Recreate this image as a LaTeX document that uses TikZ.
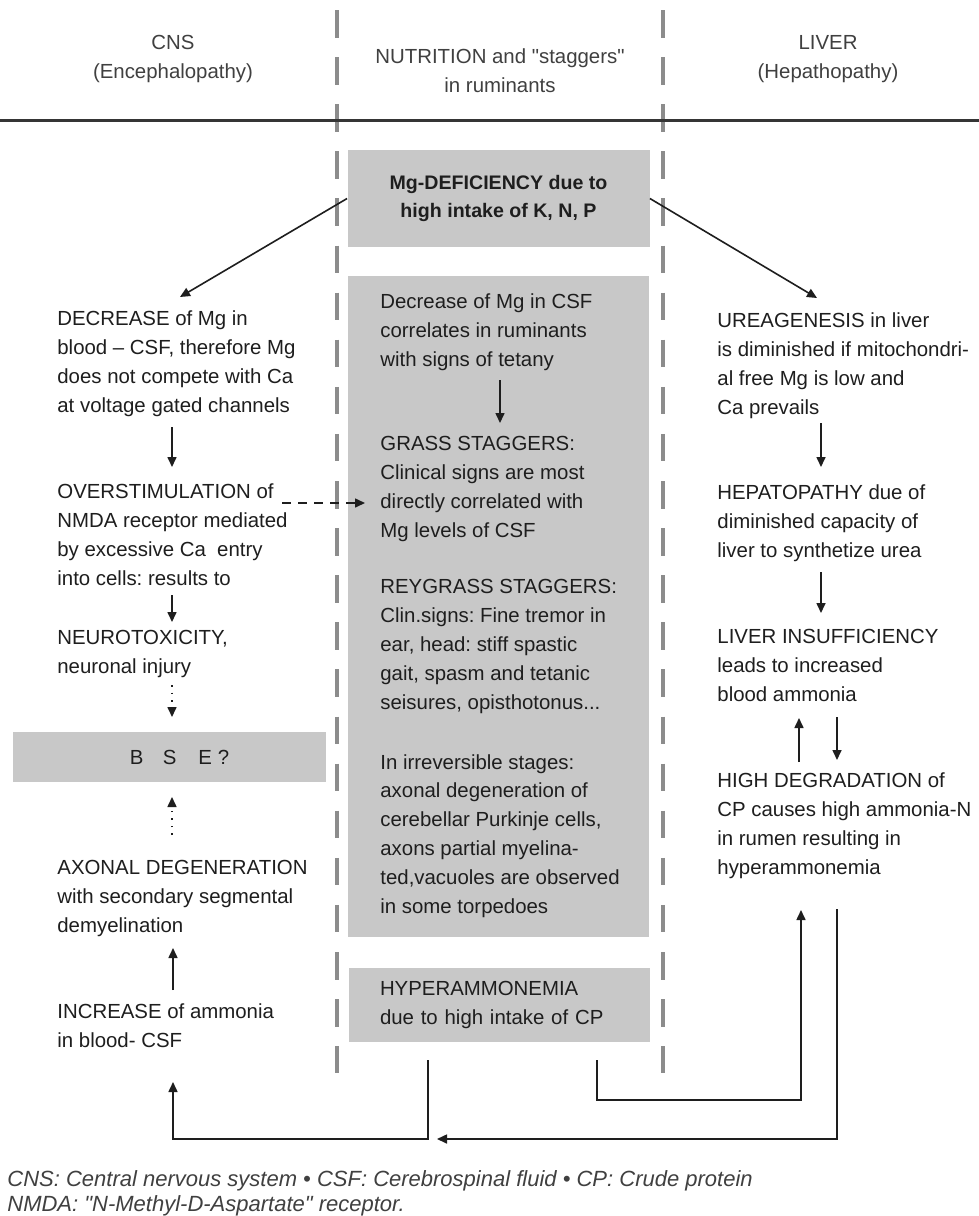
\documentclass[tikz,border=0pt]{standalone}
\usepackage{fontspec}
\setmainfont{Liberation Sans}
\usetikzlibrary{positioning,arrows.meta}
\definecolor{boxgray}{RGB}{200,200,200}
\definecolor{dashgray}{RGB}{140,140,140}
\definecolor{ink}{RGB}{30,30,30}
\tikzstyle{txt} = [anchor=base west, align=left, inner sep=0pt, text=ink, font=\frenchspacing\fontsize{10.2}{14.4}\selectfont]
\tikzstyle{head} = [anchor=base, align=center, inner sep=0pt, text=ink!85, font=\fontsize{10.2}{14.4}\selectfont]
\tikzstyle{graybox} = [fill=boxgray, inner sep=0pt, text=ink]
\tikzstyle{colline} = [dashgray, line width=1.7pt, dash pattern=on 13.75pt off 9.8pt]
\tikzstyle{arr} = [-{Triangle[length=5pt,width=4.5pt]}, line width=0.8pt, ink]
\tikzstyle{dotarr} = [arr, dash pattern=on 0.8pt off 3pt]
\tikzstyle{dasharr} = [arr, dash pattern=on 4.5pt off 3.5pt]

\begin{document}
\begin{tikzpicture}[x=0.5pt, y=-0.5pt]
\fill[white] (0,0) rectangle (979,1216);
\useasboundingbox (0,0) rectangle (979,1216);

\draw[colline] (337,10) coordinate(d_1) -- (337,1073) coordinate(d_2);
\draw[colline] (663,10) coordinate(d_3) -- (663,1073) coordinate(d_4);
\draw[ink!90, line width=1.5pt] (0,120) coordinate(h_l) -- (979,120) coordinate(h_r);

\node[head] (hd_1) at (173,78) {CNS\\(Encephalopathy)};
\node[head] (hd_2) at (500,92) {NUTRITION and \textquotedbl staggers\textquotedbl\\in ruminants};
\node[head] (hd_3) at (828,78) {LIVER\\(Hepathopathy)};

\node[graybox, minimum width=151pt, minimum height=48.5pt, align=center,
      font=\bfseries\fontsize{9.8}{14.4}\selectfont] (mid_0) at (498.5,198.5)
      {Mg-DEFICIENCY due to\\high intake of K, N, P};
\node[graybox, minimum width=150.5pt, minimum height=330.5pt] (mid_big) at (498.5,606.5) {};
\node[graybox, minimum width=150.5pt, minimum height=37pt, text width=119.5pt, inner xsep=15.5pt,
      align=left, font=\frenchspacing\fontsize{10.2}{14.4}\selectfont] (mid_5) at (499.5,1005)
      {HYPERAMMONEMIA\\due to high intake of CP};
\node[graybox, minimum width=156.5pt, minimum height=25pt, font=\fontsize{10.2}{14.4}\selectfont]
      (cns_4) at (169.5,757) {\hspace*{10pt}B\hspace{9.7pt}S\hspace{11pt}E ?};

\node[txt] (cns_1) at (57,412) {DECREASE of Mg in\\blood -- CSF, therefore Mg\\does not compete with Ca\\at voltage gated channels};
\node[txt] (cns_2) at (57,585) {OVERSTIMULATION of\\NMDA receptor mediated\\by excessive Ca\ \ entry\\into cells: results to};
\node[txt] (cns_3) at (57,673) {NEUROTOXICITY,\\neuronal injury};
\node[txt] (cns_5) at (57,932) {AXONAL DEGENERATION\\with secondary segmental\\demyelination};
\node[txt] (cns_6) at (57,1047) {INCREASE of ammonia\\in blood- CSF};

\node[txt] (mid_1) at (380,366) {Decrease of Mg in CSF\\correlates in ruminants\\with signs of tetany};
\node[txt] (mid_2) at (380,537) {GRASS STAGGERS:\\Clinical signs are most\\directly correlated with\\Mg levels of CSF};
\node[txt] (mid_3) at (380,709) {REYGRASS STAGGERS:\\Clin.signs: Fine tremor in\\ear, head: stiff spastic\\gait, spasm and tetanic\\seisures, opisthotonus...};
\node[txt] (mid_4) at (380,913) {In irreversible stages:\\axonal degeneration of\\cerebellar Purkinje cells,\\axons partial myelina-\\ted,vacuoles are observed\\in some torpedoes};

\node[txt] (liv_1) at (717,414) {UREAGENESIS in liver\\is diminished if mitochondri-\\al free Mg is low and\\Ca prevails};
\node[txt] (liv_2) at (717,557) {HEPATOPATHY due of\\diminished capacity of\\liver to synthetize urea};
\node[txt] (liv_3) at (717,701) {LIVER INSUFFICIENCY\\leads to increased\\blood ammonia};
\node[txt] (liv_4) at (717,874) {HIGH DEGRADATION of\\CP causes high ammonia-N\\in rumen resulting in\\hyperammonemia};

\node[anchor=base west, align=left, inner sep=0pt, text=ink!85,
      font=\frenchspacing\itshape\fontsize{11}{12.5}\selectfont] (ft_1) at (7,1211)
      {CNS: Central nervous system \textbullet{} CSF: Cerebrospinal fluid \textbullet{} CP: Crude protein\\NMDA: \textquotedbl N-Methyl-D-Aspartate\textquotedbl{} receptor.};

\coordinate (a_1) at (180,297);
\coordinate (a_2) at (817,298);
\draw[arr] (mid_0.west) -- (a_1);
\draw[arr] (mid_0.east) -- (a_2);

\coordinate (c_1) at (172,427);  \coordinate (c_2) at (172,467);
\coordinate (c_3) at (172,595);  \coordinate (c_4) at (172,622);
\coordinate (c_5) at (172,685);  \coordinate (c_6) at (172,717);
\coordinate (c_7) at (172,835);  \coordinate (c_8) at (172,797);
\coordinate (c_9) at (173,990);  \coordinate (c_10) at (173,948);
\draw[arr] (c_1) -- (c_2);
\draw[arr] (c_3) -- (c_4);
\draw[dotarr] (c_5) -- (c_6);
\draw[dotarr] (c_7) -- (c_8);
\draw[arr] (c_9) -- (c_10);

\coordinate (m_1) at (500,380);  \coordinate (m_2) at (500,423);
\draw[arr] (m_1) -- (m_2);
\coordinate (m_3) at (282,503);  \coordinate (m_4) at (365,503);
\draw[dasharr] (m_3) -- (m_4);

\coordinate (l_1) at (821,423);  \coordinate (l_2) at (821,467);
\coordinate (l_3) at (821,572);  \coordinate (l_4) at (821,613);
\coordinate (l_5) at (799,762);  \coordinate (l_6) at (799,718);
\coordinate (l_7) at (837,717);  \coordinate (l_8) at (837,760);
\draw[arr] (l_1) -- (l_2);
\draw[arr] (l_3) -- (l_4);
\draw[arr] (l_5) -- (l_6);
\draw[arr] (l_7) -- (l_8);

\coordinate (b_1) at (428,1060);  \coordinate (b_2) at (428,1139);
\coordinate (b_3) at (173,1082);
\draw[arr] (b_1) -- (b_2) -| (b_3);
\coordinate (b_4) at (597,1060);  \coordinate (b_5) at (597,1100);
\coordinate (b_6) at (801,910);
\draw[arr] (b_4) -- (b_5) -| (b_6);
\coordinate (b_7) at (837,909);  \coordinate (b_8) at (437,1139);
\draw[arr] (b_7) |- (b_8);

\end{tikzpicture}
\end{document}
